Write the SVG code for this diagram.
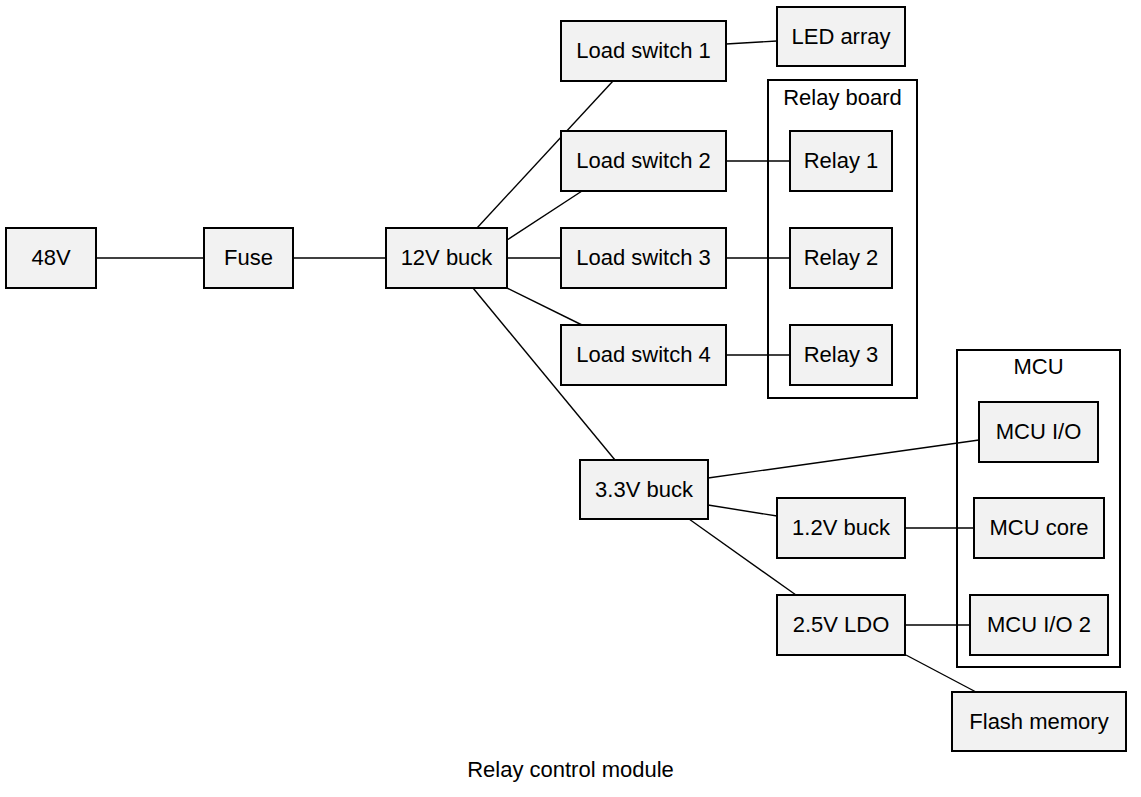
<svg xmlns="http://www.w3.org/2000/svg" width="1141" height="797" viewBox="0 0 1141 797">
<style>
.n rect{fill:#f2f2f2;stroke:#000;stroke-width:2}
.c rect{fill:none;stroke:#000;stroke-width:2}
text{font-family:"Liberation Sans",Arial,sans-serif;font-size:22px;fill:#000;text-anchor:middle}
#edges line{stroke:#000;stroke-width:1.4}
</style>
<rect width="1141" height="797" fill="#fff"/>
<g id="cluster_relay" class="c"><rect x="768" y="80" width="149" height="318"/><text x="842.5" y="105">Relay board</text></g>
<g id="cluster_mcu" class="c"><rect x="957" y="350" width="163" height="317"/><text x="1038.5" y="374">MCU</text></g>
<g id="edges">
<line x1="96" y1="258" x2="204" y2="258"/>
<line x1="293" y1="258" x2="386" y2="258"/>
<line x1="477" y1="228" x2="613" y2="81"/>
<line x1="507" y1="240" x2="582" y2="191"/>
<line x1="507" y1="258" x2="561" y2="258"/>
<line x1="507" y1="288" x2="582" y2="325"/>
<line x1="473" y1="288" x2="615" y2="460"/>
<line x1="726" y1="44" x2="777" y2="41"/>
<line x1="726" y1="161" x2="790" y2="161"/>
<line x1="726" y1="258" x2="790" y2="258"/>
<line x1="726" y1="355" x2="790" y2="355"/>
<line x1="708" y1="478" x2="979" y2="440"/>
<line x1="708" y1="505" x2="777" y2="516"/>
<line x1="689" y1="519" x2="796" y2="595"/>
<line x1="906" y1="528" x2="974" y2="528"/>
<line x1="906" y1="625" x2="970" y2="625"/>
<line x1="906" y1="655" x2="976" y2="692"/>
</g>
<g id="n48v" class="n"><rect x="6" y="228" width="90" height="60"/><text x="51" y="265">48V</text></g>
<g id="fuse" class="n"><rect x="204" y="228" width="89" height="60"/><text x="248.5" y="265">Fuse</text></g>
<g id="buck12" class="n"><rect x="386" y="228" width="121" height="60"/><text x="446.5" y="265">12V buck</text></g>
<g id="ls1" class="n"><rect x="561" y="21" width="165" height="60"/><text x="643.5" y="58">Load switch 1</text></g>
<g id="ls2" class="n"><rect x="561" y="131" width="165" height="60"/><text x="643.5" y="168">Load switch 2</text></g>
<g id="ls3" class="n"><rect x="561" y="228" width="165" height="60"/><text x="643.5" y="265">Load switch 3</text></g>
<g id="ls4" class="n"><rect x="561" y="325" width="165" height="60"/><text x="643.5" y="362">Load switch 4</text></g>
<g id="led" class="n"><rect x="777" y="7" width="128" height="59"/><text x="841" y="44">LED array</text></g>
<g id="relay1" class="n"><rect x="790" y="131" width="102" height="60"/><text x="841" y="168">Relay 1</text></g>
<g id="relay2" class="n"><rect x="790" y="228" width="102" height="60"/><text x="841" y="265">Relay 2</text></g>
<g id="relay3" class="n"><rect x="790" y="325" width="102" height="60"/><text x="841" y="362">Relay 3</text></g>
<g id="buck33" class="n"><rect x="580" y="460" width="128" height="59"/><text x="644" y="497">3.3V buck</text></g>
<g id="buck12v" class="n"><rect x="777" y="498" width="128" height="60"/><text x="841" y="535">1.2V buck</text></g>
<g id="ldo25" class="n"><rect x="777" y="595" width="128" height="60"/><text x="841" y="632">2.5V LDO</text></g>
<g id="mcuio" class="n"><rect x="979" y="402" width="119" height="60"/><text x="1038.5" y="439">MCU I/O</text></g>
<g id="mcucore" class="n"><rect x="974" y="498" width="130" height="60"/><text x="1039" y="535">MCU core</text></g>
<g id="mcuio2" class="n"><rect x="970" y="595" width="138" height="60"/><text x="1039" y="632">MCU I/O 2</text></g>
<g id="flash" class="n"><rect x="952" y="692" width="174" height="59"/><text x="1039" y="729">Flash memory</text></g>
<text x="570.5" y="777">Relay control module</text>
</svg>
